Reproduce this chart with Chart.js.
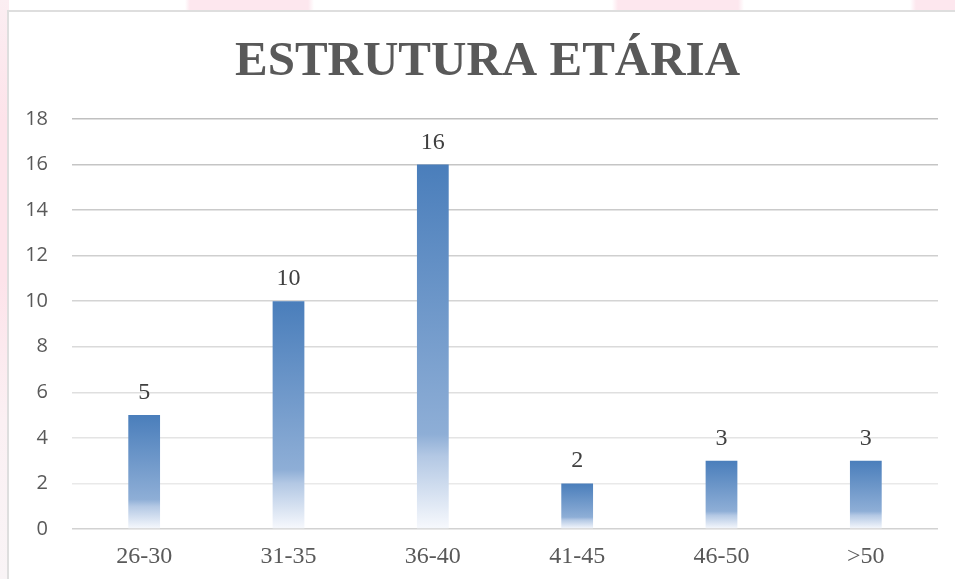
<!DOCTYPE html>
<html>
<head>
<meta charset="utf-8">
<script src="https://cdn.jsdelivr.net/npm/chart.js@4.4.1/dist/chart.umd.min.js"></script>
<style>
  html, body { margin: 0; padding: 0; }
  body {
    width: 955px; height: 579px; overflow: hidden; position: relative;
    background:
      linear-gradient(90deg, #fff 0px, #fff 185px, #fde7ee 190px, #fde7ee 308px, #fff 314px, #fff 612px, #fde7ee 618px, #fde7ee 738px, #fff 744px, #fff 910px, #fde7ee 916px);
  }
  .leftstrip {
    position: absolute; left: 0; top: 0; width: 9px; height: 579px;
    background: linear-gradient(180deg, #fbeef2 0px, #fde3ea 120px, #fde3ea 280px, #fbf0f3 420px, #f9f4f6 579px);
  }
  .box {
    position: absolute; left: 7px; top: 10px; width: 960px; height: 580px;
    background: #fff; border-left: 2px solid #dedede; border-top: 2px solid #dedede;
  }
  canvas { position: absolute; left: 0; top: 0; }
</style>
</head>
<body>
<div class="leftstrip"></div>
<div class="box"></div>
<canvas id="chart" width="955" height="579"></canvas>
<script>
// ===== DATA =====
const ageGroups = ['26-30', '31-35', '36-40', '41-45', '46-50', '>50'];
const counts = [5, 10, 16, 2, 3, 3];
const chartTitle = 'ESTRUTURA ETÁRIA';

const SERIF = '"Liberation Serif", "Times New Roman", serif';

// gradient per bar: dark blue on top, fading to white at the base
function barGradient(context) {
  const chart = context.chart;
  const { ctx, chartArea, scales } = chart;
  if (!chartArea || context.type !== 'data') return '#4a7ebb';
  const top = scales.y.getPixelForValue(context.raw);
  const base = scales.y.getPixelForValue(0);
  const g = ctx.createLinearGradient(0, top, 0, base);
  g.addColorStop(0, '#4a7ebb');
  g.addColorStop(0.74, '#8eaed6');
  g.addColorStop(0.80, '#b3c8e4');
  g.addColorStop(1, '#f7f9fd');
  return g;
}

// gridline shade per tick (darker at the top, like the source)
function gridShade(context) {
  const v = context.tick ? context.tick.value : 0;
  if (v === 0) return '#d2d2d2';
  const t = v / 18;
  const c = Math.round(238 - t * 46);
  return `rgb(${c},${c},${c})`;
}

// title centred on the white box, not on the plot
const boxTitle = {
  id: 'boxTitle',
  afterDraw(chart) {
    const { ctx } = chart;
    ctx.save();
    ctx.font = 'bold 49px ' + SERIF;
    ctx.fillStyle = '#595959';
    ctx.textAlign = 'center';
    ctx.textBaseline = 'alphabetic';
    ctx.fillText(chartTitle, chart.width / 2 + 10, 75);
    ctx.restore();
  }
};

// value labels above bars
const valueLabels = {
  id: 'valueLabels',
  afterDatasetsDraw(chart) {
    const { ctx } = chart;
    const meta = chart.getDatasetMeta(0);
    ctx.save();
    ctx.font = '24px ' + SERIF;
    ctx.fillStyle = '#404040';
    ctx.textAlign = 'center';
    ctx.textBaseline = 'alphabetic';
    meta.data.forEach((bar, i) => {
      ctx.fillText(String(counts[i]), bar.x, bar.y - 16);
    });
    ctx.restore();
  }
};

new Chart(document.getElementById('chart'), {
  type: 'bar',
  data: {
    labels: ageGroups,
    datasets: [{
      data: counts,
      backgroundColor: barGradient,
      borderWidth: 0,
      barPercentage: 0.22,
      categoryPercentage: 1
    }]
  },
  options: {
    responsive: false,
    animation: false,
    layout: { padding: { left: 0, right: 17, top: 119, bottom: 0 } },
    plugins: {
      legend: { display: false },
      tooltip: { enabled: false },
      title: { display: false }
    },
    scales: {
      x: {
        grid: { display: false, drawTicks: false },
        border: { display: false },
        ticks: {
          color: '#595959',
          font: { family: SERIF, size: 24 },
          padding: 13
        },
        afterFit(scale) { scale.height = 50; }
      },
      y: {
        min: 0,
        max: 18,
        ticks: {
          stepSize: 2,
          color: '#595959',
          font: { family: '"Open Sans", "Liberation Sans", sans-serif', size: 20 },
          padding: 24
        },
        grid: { color: gridShade, lineWidth: 1.5, drawTicks: false },
        border: { display: false },
        afterFit(scale) { scale.width = 72; }
      }
    }
  },
  plugins: [valueLabels, boxTitle]
});
</script>
</body>
</html>
